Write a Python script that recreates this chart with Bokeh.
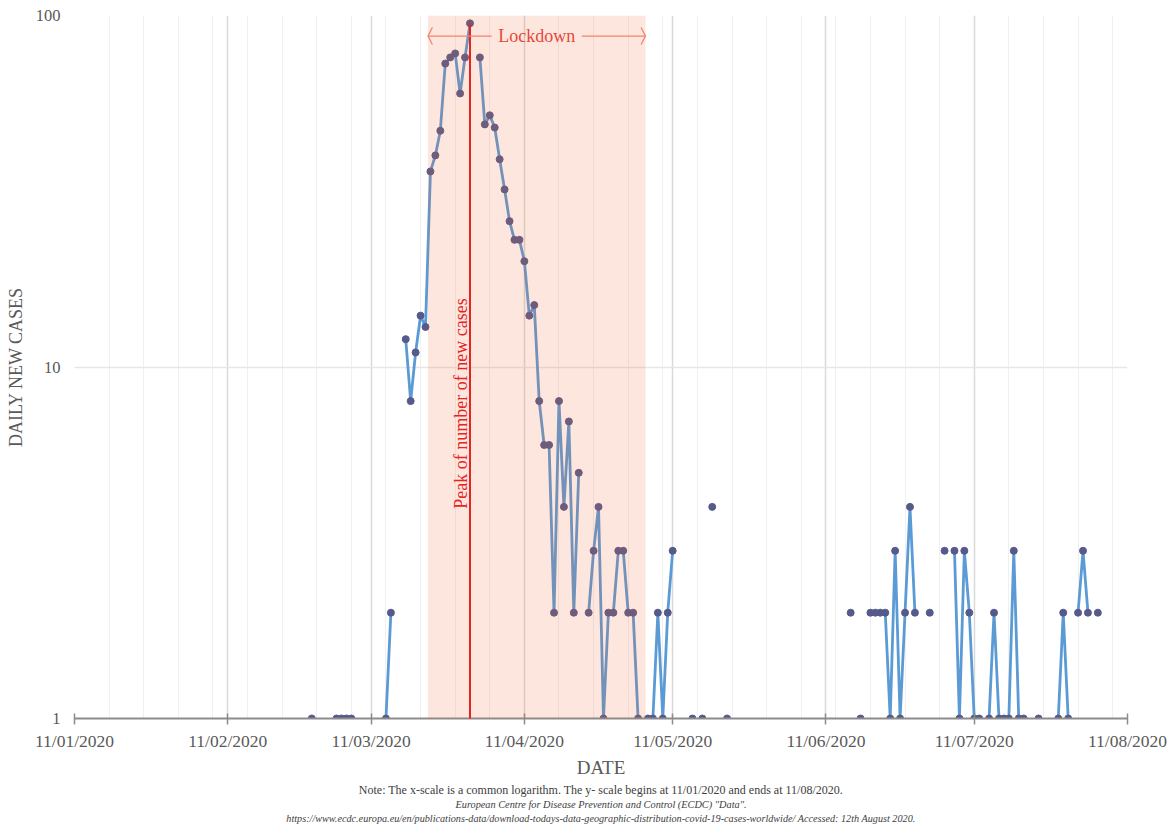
import numpy as np
import pandas as pd
from math import pi
from bokeh.plotting import figure
from bokeh.models import (Range1d, FixedTicker, DatetimeTickFormatter, BasicTickFormatter,
                          BoxAnnotation, Label, Title, ColumnDataSource)
from bokeh.embed import file_html
from bokeh.resources import INLINE

# ---------------- data ----------------
axis_start = "2020-01-11"
axis_end = "2020-08-11"
month_ticks = ["2020-01-11", "2020-02-11", "2020-03-11", "2020-04-11",
               "2020-05-11", "2020-06-11", "2020-07-11", "2020-08-11"]
series_start = "2020-02-28"
# daily new cases, None = no value reported
cases_feb = [1, None]
cases_mar = [None, None, None, 1, 1, 1, 1, None, None, None, None, None, None, 1, 2,
             None, None, 12, 8, 11, 14, 13, 36, 40, 47, 73, 76, 78, 60, 76, 95]
cases_apr = [None, 76, 49, 52, 48, 39, 32, 26, 23, 23, 20, 14, 15, 8, 6, 6, 2, 8, 4, 7,
             2, 5, None, 2, 3, 4, 1, 2, 2, 3]
cases_may = [3, 2, 2, 1, None, 1, 1, 2, 1, 2, 3, None, None, None, 1, None, 1, None, 4,
             None, None, 1, None, None, None, None, None, None, None, None, None]
cases_jun = [None] * 15 + [2, None, 1, None, 2, 2, 2, 2, 1, 3, 1, 2, 4, 2, None]
cases_jul = [None, 2, None, None, 3, None, 3, 1, 3, 2, 1, 1, None, 1, 2, 1, 1, 1, 3, 1,
             1, None, None, 1, None, None, None, 1, 2, 1, None]
cases_aug = [2, 3, 2, None, 2]
lockdown_first_day = "2020-03-23"
lockdown_last_day = "2020-05-05"

footnotes = [
    "Note: The x-scale is a common logarithm. The y- scale begins at 11/01/2020 and ends at 11/08/2020.",
    "European Centre for Disease Prevention and Control (ECDC) \"Data\".",
    "https://www.ecdc.europa.eu/en/publications-data/download-todays-data-geographic-distribution-covid-19-cases-worldwide/ Accessed: 12th August 2020.",
]

# ---------------- helpers ----------------
DAY = 86400000.0
def ms(s):
    return pd.Timestamp(s).value / 1e6

values = cases_feb + cases_mar + cases_apr + cases_may + cases_jun + cases_jul + cases_aug
dates = pd.date_range(series_start, periods=len(values), freq="D")
vals = np.array([np.nan if v is None else float(v) for v in values])
line_src = ColumnDataSource(dict(date=dates, cases=vals))
mask = ~np.isnan(vals)
pt_src = ColumnDataSource(dict(date=dates[mask], cases=vals[mask]))

FONT = "Liberation Serif"
GREY = "#595959"

p = figure(width=1173, height=825, x_axis_type="datetime", y_axis_type="log",
           x_range=Range1d(ms(axis_start), ms(axis_end)), y_range=Range1d(1, 100),
           output_backend="svg", toolbar_location=None,
           min_border_left=74, min_border_right=46, min_border_top=15, min_border_bottom=107)
p.outline_line_color = None
p.background_fill_color = "white"
p.border_fill_color = "white"

weekly = list(np.arange(ms(axis_start), ms(axis_end) + 1, 7 * DAY))
p.xaxis.ticker = FixedTicker(ticks=[ms(t) for t in month_ticks], minor_ticks=weekly)
fmt = "%d/%m/%Y"
p.xaxis.formatter = DatetimeTickFormatter(microseconds=fmt, milliseconds=fmt, seconds=fmt,
                                          minsec=fmt, minutes=fmt, hourmin=fmt, hours=fmt,
                                          days=fmt, months=fmt, years=fmt)
p.yaxis.ticker = FixedTicker(ticks=[1, 10, 100])
p.yaxis.formatter = BasicTickFormatter()

p.xgrid.grid_line_color = "#D9D9D9"
p.xgrid.grid_line_width = 1.5
p.xgrid.minor_grid_line_color = "#F0F0F0"
p.xgrid.minor_grid_line_width = 1
p.ygrid.grid_line_color = "#E6E6E6"
p.ygrid.grid_line_width = 1.5
p.ygrid.minor_grid_line_color = None

xa = p.xaxis[0]
xa.axis_line_color = "#8C8C8C"
xa.axis_line_width = 2
xa.major_tick_line_color = "#8C8C8C"
xa.major_tick_line_width = 1.5
xa.major_tick_in = 5
xa.major_tick_out = 6
xa.minor_tick_line_color = None
xa.major_label_text_font = FONT
xa.major_label_text_font_size = "17.5px"
xa.major_label_text_color = GREY
xa.major_label_standoff = 6
xa.axis_label = "DATE"
xa.axis_label_text_font = FONT
xa.axis_label_text_font_size = "19px"
xa.axis_label_text_font_style = "normal"
xa.axis_label_text_color = GREY
xa.axis_label_standoff = 3

ya = p.yaxis[0]
ya.axis_line_color = None
ya.major_tick_line_color = None
ya.minor_tick_line_color = None
ya.major_tick_in = 0
ya.major_tick_out = 0
ya.major_label_text_font = FONT
ya.major_label_text_font_size = "16.5px"
ya.major_label_text_color = GREY
ya.major_label_standoff = 14
ya.axis_label = "DAILY NEW CASES"
ya.axis_label_text_font = FONT
ya.axis_label_text_font_size = "18px"
ya.axis_label_text_font_style = "normal"
ya.axis_label_text_color = GREY
ya.axis_label_standoff = 7

# series
p.line(x="date", y="cases", source=line_src, line_color="#5B9BD5", line_width=2.8)
p.scatter(x="date", y="cases", source=pt_src, size=7, fill_color="#565A8A",
          line_color="#565A8A")

# lockdown shading
lk_left = ms(lockdown_first_day) - DAY / 2
lk_right = ms(lockdown_last_day) + DAY / 2
p.add_layout(BoxAnnotation(left=lk_left, right=lk_right, fill_color="#F06432",
                           fill_alpha=0.16, line_color=None))

# peak line
i_peak = int(np.nanargmax(vals))
peak_x = ms(dates[i_peak])
peak_v = vals[i_peak]
RED = "#E8231E"
p.segment(x0=[peak_x], y0=[1], x1=[peak_x], y1=[peak_v], line_color=RED, line_width=2,
          level="overlay")
p.add_layout(Label(x=peak_x, y=315, y_units="screen", x_offset=-9,
                   text="Peak of number of new cases", angle=pi / 2,
                   text_align="center", text_baseline="middle",
                   text_font=FONT, text_font_size="18px", text_color=RED, level="overlay"))

# lockdown arrow
ARROW = "#F4826A"
y_arrow = 87.4
mid = (lk_left + lk_right) / 2
half_gap = 9.1 * DAY
p.segment(x0=[lk_left, mid + half_gap], y0=[y_arrow, y_arrow],
          x1=[mid - half_gap, lk_right], y1=[y_arrow, y_arrow],
          line_color=ARROW, line_width=1.3, level="overlay")
d = 0.9 * DAY
k = 10 ** (8.5 / 351.5)
p.multi_line(xs=[[lk_left + d, lk_left, lk_left + d], [lk_right - d, lk_right, lk_right - d]],
             ys=[[y_arrow * k, y_arrow, y_arrow / k], [y_arrow * k, y_arrow, y_arrow / k]],
             line_color=ARROW, line_width=1.3, level="overlay")
p.add_layout(Label(x=mid, y=y_arrow, text="Lockdown", text_align="center",
                   text_baseline="middle", text_font=FONT, text_font_size="18px",
                   text_color="#E8473A", level="overlay"))

# footnotes below the axis
foot_style = ["normal", "italic", "italic"]
foot_size = ["12px", "10.3px", "10.2px"]
foot_standoff = [0, 1, 1]
for txt, st, sz, so in zip(footnotes, foot_style, foot_size, foot_standoff):
    p.add_layout(Title(text=txt, align="center", standoff=so,
                       text_font=FONT, text_font_size=sz, text_font_style=st,
                       text_color="#404040"), "below")

open("out.html", "w").write(file_html(p, INLINE))
